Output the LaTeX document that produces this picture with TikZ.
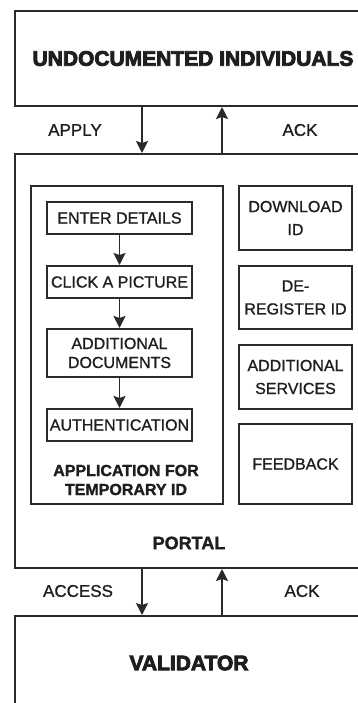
\documentclass[tikz,border=0pt]{standalone}
\usepackage{fontspec}
\setmainfont{Liberation Sans}
\newfontfamily\heavyfont[FakeBold=4]{Liberation Sans Bold}
\newfontfamily\medfont[FakeBold=1]{Liberation Sans}
\newfontfamily\boldfont[FakeBold=1.5]{Liberation Sans Bold}
\usetikzlibrary{arrows.meta}
\definecolor{ln}{HTML}{2A2A2A}
\definecolor{tx}{HTML}{1E1E1E}
\begin{document}
\begin{tikzpicture}[x=1pt,y=-1pt,
  box/.style={draw=ln, line width=2pt, rectangle, inner sep=0pt, anchor=north west, text=tx, align=center},
  arr/.style={draw=ln, line width=1.8pt, -{Stealth[length=12pt,width=12pt,inset=2pt]}},
  lbl/.style={text=tx, font=\medfont\fontsize{17}{20}\selectfont},
  small/.style={font=\medfont\fontsize{16}{19}\selectfont},
  side/.style={font=\medfont\fontsize{16}{23}\selectfont}]
\useasboundingbox (0,0) rectangle (358,703);
\fill[white] (0,0) rectangle (358,703);
\clip (0,0) rectangle (358,703);
% outer boxes
\node[box, minimum width=356pt, minimum height=95pt, font=\heavyfont\fontsize{21}{25}\selectfont] (ud) at (14,10) {UNDOCUMENTED INDIVIDUALS};
\node[box, minimum width=356pt, minimum height=414pt] (portal) at (14,153) {};
\node[box, minimum width=356pt, minimum height=120pt] (val) at (14,615) {};
\node[text=tx, font=\heavyfont\fontsize{21}{24}\selectfont] (valt) at (189,663) {VALIDATOR};
\node[text=tx, font=\boldfont\fontsize{18}{20}\selectfont] (portalt) at (189,543) {PORTAL};
% connectors between layers
\coordinate (c1) at (142,0);
\coordinate (c2) at (222,0);
\draw[arr] (ud.south -| c1) -- (portal.north -| c1);
\draw[arr] (portal.north -| c2) -- (ud.south -| c2);
\draw[arr] (portal.south -| c1) -- (val.north -| c1);
\draw[arr] (val.north -| c2) -- (portal.south -| c2);
\node[lbl] (apply) at (75,130) {APPLY};
\node[lbl] (ack1) at (300,130) {ACK};
\node[lbl] (access) at (78,591) {ACCESS};
\node[lbl] (ack2) at (302,591) {ACK};
% application box
\node[box, minimum width=192pt, minimum height=318pt] (app) at (30,185) {};
\node[box, small, minimum width=145pt, minimum height=32pt] (enter) at (46,201) {ENTER DETAILS};
\node[box, small, minimum width=145pt, minimum height=32pt] (click) at (46,265) {CLICK A PICTURE};
\node[box, small, minimum width=145pt, minimum height=48pt] (docs) at (46,328) {ADDITIONAL\\DOCUMENTS};
\node[box, small, minimum width=145pt, minimum height=32pt] (auth) at (46,408) {AUTHENTICATION};
\draw[arr] (enter) -- (click);
\draw[arr] (click) -- (docs);
\draw[arr] (docs) -- (auth);
\node[text=tx, align=center, font=\boldfont\fontsize{16}{19}\selectfont] (appt) at (126,480) {APPLICATION FOR\\TEMPORARY ID};
% side boxes
\node[box, side, minimum width=113pt, minimum height=64pt] (dl) at (238,185) {DOWNLOAD\\ID};
\node[box, side, minimum width=113pt, minimum height=63pt] (dereg) at (238,265) {DE-\\REGISTER ID};
\node[box, side, minimum width=113pt, minimum height=64pt] (addl) at (238,344) {ADDITIONAL\\SERVICES};
\node[box, side, minimum width=113pt, minimum height=80pt] (fb) at (238,423) {FEEDBACK};
\end{tikzpicture}
\end{document}
